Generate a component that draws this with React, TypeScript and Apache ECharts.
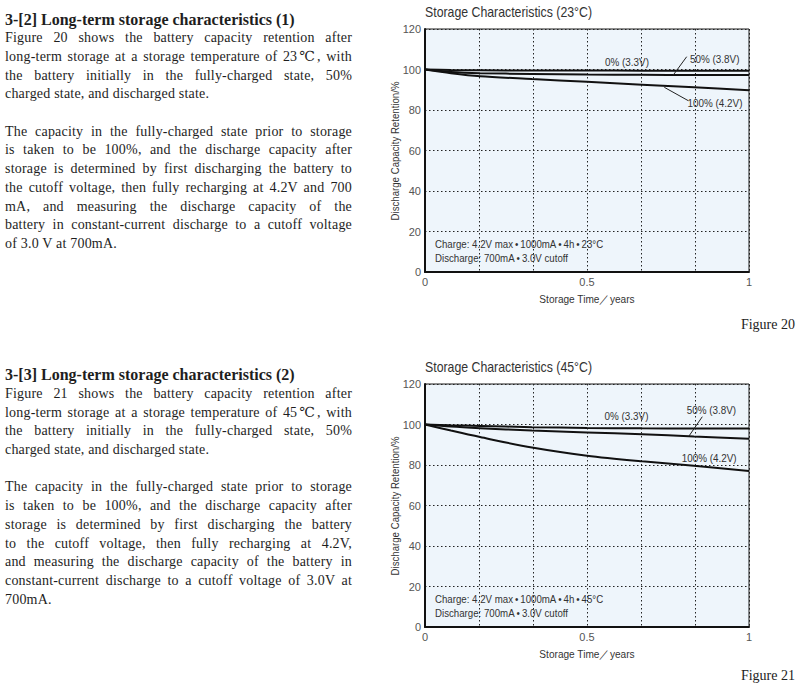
import React, { useEffect, useRef } from "react";
import * as echarts from "echarts";

// ---- data ----
const storageYears = [0, 0.08, 0.17, 0.33, 0.5, 0.67, 0.83, 1];

const ret23_0 = [100, 99.7, 99.6, 99.5, 99.5, 99.4, 99.4, 99.4];
const ret23_50 = [100, 98.8, 98.2, 97.8, 97.5, 97.4, 97.3, 97.3];
const ret23_100 = [100, 98.2, 96.7, 95.3, 93.9, 92.5, 91.2, 89.7];

const ret45_0 = [100, 99.6, 99.3, 98.7, 98.3, 98.1, 98.0, 98.0];
const ret45_50 = [100, 99.0, 98.2, 97.0, 96.1, 95.2, 94.1, 93.0];
const ret45_100 = [100, 97.0, 93.8, 88.6, 84.6, 81.8, 79.6, 77.0];

const seriesNames = ["0% (3.3V)", "50% (3.8V)", "100% (4.2V)"];
const chartTitles = ["Storage Characteristics (23°C)", "Storage Characteristics (45°C)"];
const chargeNotes = [
  "Charge: 4.2V max\u2009•\u20091000mA\u2009•\u20094h\u2009•\u200923°C",
  "Charge: 4.2V max\u2009•\u20091000mA\u2009•\u20094h\u2009•\u200945°C",
];
const dischargeNote = "Discharge: 700mA\u2009•\u20093.0V cutoff";
const yAxisName = "Discharge Capacity Retention/%";
const xAxisName = "Storage Time／years";
const figureLabels = ["Figure 20", "Figure 21"];

const block1: { text: string; last?: boolean; head?: boolean }[] = [
  { text: "3-[2] Long-term storage characteristics (1)", head: true },
  { text: "Figure 20 shows the battery capacity retention after" },
  { text: "long-term storage at a storage temperature of 23℃, with" },
  { text: "the battery initially in the fully-charged state, 50%" },
  { text: "charged state, and discharged state.", last: true },
  { text: "", last: true },
  { text: "The capacity in the fully-charged state prior to storage" },
  { text: "is taken to be 100%, and the discharge capacity after" },
  { text: "storage is determined by first discharging the battery to" },
  { text: "the cutoff voltage, then fully recharging at 4.2V and 700" },
  { text: "mA, and measuring the discharge capacity of the" },
  { text: "battery in constant-current discharge to a cutoff voltage" },
  { text: "of 3.0 V at 700mA.", last: true },
];
const block2: { text: string; last?: boolean; head?: boolean }[] = [
  { text: "3-[3] Long-term storage characteristics (2)", head: true },
  { text: "Figure 21 shows the battery capacity retention after" },
  { text: "long-term storage at a storage temperature of 45℃, with" },
  { text: "the battery initially in the fully-charged state, 50%" },
  { text: "charged state, and discharged state.", last: true },
  { text: "", last: true },
  { text: "The capacity in the fully-charged state prior to storage" },
  { text: "is taken to be 100%, and the discharge capacity after" },
  { text: "storage is determined by first discharging the battery" },
  { text: "to the cutoff voltage, then fully recharging at 4.2V," },
  { text: "and measuring the discharge capacity of the battery in" },
  { text: "constant-current discharge to a cutoff voltage of 3.0V at" },
  { text: "700mA.", last: true },
];

const SANS = '"Liberation Sans", Arial, sans-serif';
const SERIF = '"Liberation Serif", "DejaVu Serif", serif';

const pair = (ys: number[]) => storageYears.map((x, i) => [x, ys[i]]);

function buildOption() {
  const grids = [
    { left: 425, top: 29, width: 324, height: 243 },
    { left: 425, top: 384, width: 324, height: 243 },
  ];
  const data = [
    [ret23_0, ret23_50, ret23_100],
    [ret45_0, ret45_50, ret45_100],
  ];
  const xLabel = (v: number) => {
    const r = Math.round(v * 2) / 2;
    return Math.abs(v - r) < 1e-6 ? String(r) : "";
  };
  const xAxes = grids.map((_, i) => ({
    type: "value",
    gridIndex: i,
    min: 0,
    max: 1,
    interval: 1 / 6,
    axisLine: { show: true, lineStyle: { color: "#111", width: 2 } },
    axisTick: { show: false },
    axisLabel: { formatter: xLabel, color: "#555", fontSize: 11, fontFamily: SANS, margin: 4 },
    splitLine: { show: true, lineStyle: { color: "#222", width: 1, type: [1.5, 2.5] } },
  }));
  const yAxes = grids.map((_, i) => ({
    type: "value",
    gridIndex: i,
    min: 0,
    max: 120,
    interval: 20,
    axisLine: { show: true, lineStyle: { color: "#111", width: 2 } },
    axisTick: { show: false },
    axisLabel: { color: "#555", fontSize: 11, fontFamily: SANS, margin: 4 },
    splitLine: { show: true, lineStyle: { color: "#222", width: 1, type: [1.5, 2.5] } },
  }));
  const series: any[] = [];
  data.forEach((set, gi) => {
    set.forEach((ys, si) => {
      series.push({
        type: "line",
        name: seriesNames[si],
        xAxisIndex: gi,
        yAxisIndex: gi,
        data: pair(ys),
        smooth: 0.3,
        showSymbol: false,
        lineStyle: { color: "#111", width: 2 },
        z: 5,
      });
    });
  });

  const txt = (text: string, x: number, y: number, sx: number, extra: any = {}) => ({
    type: "text",
    x,
    y,
    scaleX: sx,
    silent: true,
    z: 10,
    style: {
      text,
      fill: "#333",
      font: `11px ${SANS}`,
      verticalAlign: "middle",
      align: "left",
      ...extra,
    },
  });
  const line = (x1: number, y1: number, x2: number, y2: number) => ({
    type: "line",
    silent: true,
    z: 10,
    shape: { x1, y1, x2, y2 },
    style: { stroke: "#222", lineWidth: 1 },
  });

  const graphic: any[] = [];
  const offs = [0, 355];
  grids.forEach((g, i) => {
    const o = offs[i];
    graphic.push(txt(chartTitles[i], 425, 12 + o, 0.88, { font: `14px ${SANS}`, fill: "#333" }));
    graphic.push({
      ...txt(yAxisName, 395, 151 + o, 0.92, { align: "center", font: `10.5px ${SANS}` }),
      rotation: Math.PI / 2,
    });
    graphic.push(txt(xAxisName, 587, 299 + o, 0.92, { align: "center", font: `11px ${SANS}` }));
    graphic.push(txt(chargeNotes[i], 435, 244.5 + o, 0.88, { font: `11px ${SANS}` }));
    graphic.push(txt(dischargeNote, 435, 258 + o, 0.88, { font: `11px ${SANS}` }));
    graphic.push(txt(figureLabels[i], 795, 324 + (i === 0 ? 0 : 351), 1, { align: "right", font: `14px ${SERIF}`, fill: "#222" }));
  });
  // 23°C annotations
  graphic.push(txt(seriesNames[0], 605, 62, 0.86, { font: `11.5px ${SANS}` }));
  graphic.push(txt(seriesNames[1], 690, 59, 0.86, { font: `11.5px ${SANS}` }));
  graphic.push(line(686.7, 56.7, 673.3, 75));
  graphic.push(txt(seriesNames[2], 687.5, 103, 0.86, { font: `11.5px ${SANS}` }));
  graphic.push(line(664.3, 87.3, 688.3, 100.7));
  // 45°C annotations
  graphic.push(txt(seriesNames[0], 604.5, 415.7, 0.86, { font: `11.5px ${SANS}` }));
  graphic.push(txt(seriesNames[1], 686.7, 410, 0.86, { font: `11.5px ${SANS}` }));
  graphic.push(line(702.3, 416.7, 689, 436));
  graphic.push(txt(seriesNames[2], 681.7, 457.3, 0.86, { font: `11.5px ${SANS}` }));

  return {
    animation: false,
    backgroundColor: "#ffffff",
    grid: grids.map((g) => ({
      ...g,
      show: true,
      backgroundColor: "#eef5fb",
      borderColor: "#1a1a1a",
      borderWidth: 1,
    })),
    xAxis: xAxes,
    yAxis: yAxes,
    series,
    graphic,
  };
}

function TextBlock({ lines, top }: { lines: typeof block1; top: number }) {
  return (
    <div style={{ position: "absolute", left: 5, top, width: 347, fontFamily: SERIF, color: "#1e1e1e" }}>
      {lines.map((l, i) => (
        <div
          key={i}
          style={{
            height: 18.7,
            lineHeight: "18.7px",
            fontSize: l.head ? 16 : 14,
            fontWeight: l.head ? "bold" : "normal",
            letterSpacing: l.head ? 0 : 0.2,
            whiteSpace: "nowrap",
            textAlign: l.head || l.last ? "left" : "justify",
            textAlignLast: l.head || l.last ? "left" : "justify",
          } as any}
        >
          {l.text || "\u00a0"}
        </div>
      ))}
    </div>
  );
}

export default function App() {
  const ref = useRef<HTMLDivElement>(null);
  useEffect(() => {
    if (!ref.current) return;
    const chart = echarts.init(ref.current, undefined, { renderer: "svg" });
    chart.setOption(buildOption() as any);
    return () => chart.dispose();
  }, []);
  return (
    <div style={{ position: "fixed", left: 0, top: 0, width: 800, height: 687, background: "#fff", overflow: "hidden" }}>
      <div ref={ref} style={{ position: "absolute", left: 0, top: 0, width: 800, height: 687 }} />
      <TextBlock lines={block1} top={10.65} />
      <TextBlock lines={block2} top={366.35} />
    </div>
  );
}
